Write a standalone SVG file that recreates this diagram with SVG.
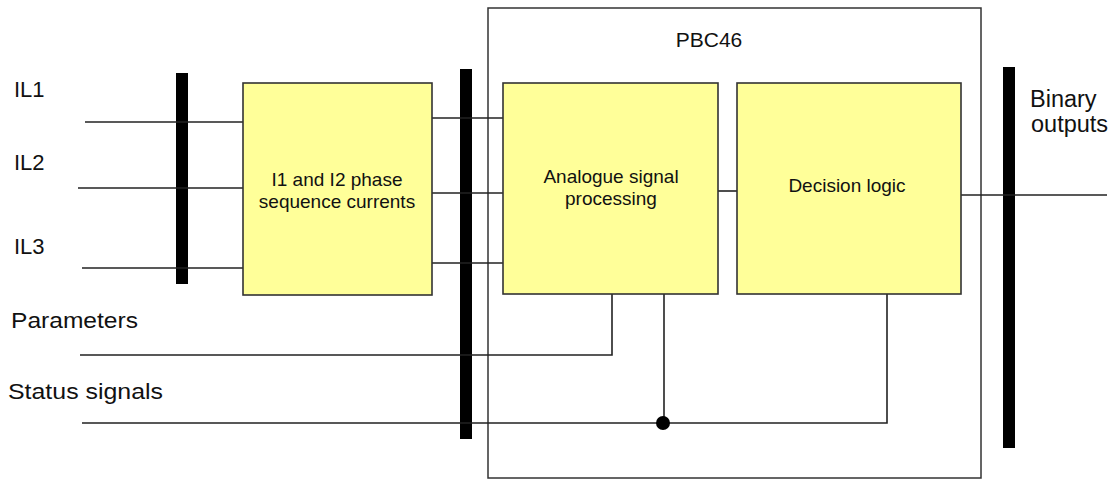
<svg xmlns="http://www.w3.org/2000/svg" width="1118" height="480" viewBox="0 0 1118 480">
<style>
  .box { fill: #FFFF99; stroke: #333; stroke-width: 1.6; }
  .frame { fill: none; stroke: #333; stroke-width: 1.5; }
  .bar { fill: #000; }
  .wire { fill: none; stroke: #222; stroke-width: 1.6; }
  text { font-family: "Liberation Sans", Arial, sans-serif; fill: #111; }
  .lbl { font-size: 22px; }
  .side { font-size: 22px; }
  .inbox { font-size: 19px; text-anchor: middle; }
</style>
<rect width="1118" height="480" fill="#fff"/>

<g id="pbc46">
  <rect class="frame" x="488" y="8" width="493" height="470"/>
  <text x="709" y="47" font-size="21" text-anchor="middle">PBC46</text>
</g>

<g id="bars">
  <rect class="bar" x="176" y="73" width="12" height="211"/>
  <rect class="bar" x="460" y="69" width="12" height="370"/>
  <rect class="bar" x="1003" y="67" width="12" height="381"/>
</g>

<g id="connectors">
  <polyline class="wire" points="85,122 243,122"/>
  <polyline class="wire" points="78,188 243,188"/>
  <polyline class="wire" points="82,268 245,268"/>
  <polyline class="wire" points="432,118 503,118"/>
  <polyline class="wire" points="432,193 503,193"/>
  <polyline class="wire" points="432,263 503,263"/>
  <polyline class="wire" points="718,191 737,191"/>
  <polyline class="wire" points="961,195 1107,195"/>
  <polyline class="wire" points="80,355 612,355 612,294"/>
  <polyline class="wire" points="82,423 887,423 887,294"/>
  <polyline class="wire" points="664,294 664,423"/>
  <circle cx="663" cy="423" r="7" fill="#000"/>
</g>

<g id="node-seq">
  <rect class="box" x="243" y="83" width="189" height="212"/>
  <text class="inbox" x="337" y="186">I1 and I2 phase</text>
  <text class="inbox" x="337" y="208">sequence currents</text>
</g>

<g id="node-analogue">
  <rect class="box" x="503" y="83" width="215" height="211"/>
  <text class="inbox" x="611" y="183">Analogue signal</text>
  <text class="inbox" x="611" y="205">processing</text>
</g>

<g id="node-decision">
  <rect class="box" x="737" y="83" width="224" height="211"/>
  <text class="inbox" x="847" y="192">Decision logic</text>
</g>

<g id="labels">
  <text class="lbl" x="14" y="97">IL1</text>
  <text class="lbl" x="14" y="170">IL2</text>
  <text class="lbl" x="14" y="254">IL3</text>
  <text class="side" x="11" y="328" textLength="127" lengthAdjust="spacingAndGlyphs">Parameters</text>
  <text class="side" x="8" y="399" textLength="155" lengthAdjust="spacingAndGlyphs">Status signals</text>
  <text x="1030" y="107" font-size="23.5">Binary</text>
  <text x="1031" y="132" font-size="23.5">outputs</text>
</g>
</svg>
